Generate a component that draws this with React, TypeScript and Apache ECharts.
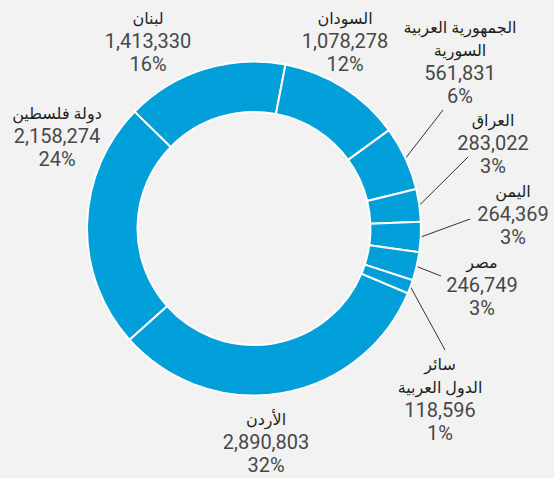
import React, { useEffect, useRef } from "react";
import * as echarts from "echarts";

// Data (sorted, drawn clockwise starting just below 3 o'clock)
const countries = [
  "الأردن",
  "دولة فلسطين",
  "لبنان",
  "السودان",
  "الجمهورية العربية\nالسورية",
  "العراق",
  "اليمن",
  "مصر",
  "سائر\nالدول العربية",
];
const values = [2890803, 2158274, 1413330, 1078278, 561831, 283022, 264369, 246749, 118596];

// Label placement (block centres) and leader-line end points
const labelCenters: [number, number][] = [
  [266, 442],
  [57, 136],
  [148, 41],
  [345, 41],
  [460, 61.5],
  [493, 143],
  [513, 214],
  [482, 285],
  [440, 398.5],
];
const leaderEnds: ([number, number] | null)[] = [
  null,
  null,
  null,
  null,
  [443, 110],
  [468, 157],
  [470, 219],
  [441, 276],
  [445, 350],
];

const BLUE = "#009fda";

export default function App() {
  const ref = useRef<HTMLDivElement>(null);
  useEffect(() => {
    document.body.style.margin = "0";
    document.body.style.background = "#f2f2f2";
    if (!ref.current) return;
    const chart = echarts.init(ref.current, null, { renderer: "svg" });
    const data = countries.map((name, i) => ({
      name,
      value: values[i],
      labelLine: { show: leaderEnds[i] !== null },
    }));
    chart.setOption({
      animation: false,
      backgroundColor: "#f2f2f2",
      series: [
        {
          type: "pie",
          center: [254, 228.5],
          radius: [116.5, 167],
          startAngle: -22.8,
          clockwise: true,
          avoidLabelOverlap: false,
          itemStyle: { color: BLUE, borderColor: "#ffffff", borderWidth: 2 },
          emphasis: { disabled: true },
          data,
          label: {
            show: true,
            position: "outside",
            align: "center",
            formatter: (p: any) =>
              `{n|${p.name}}\n{v|${Number(p.value).toLocaleString("en-US")}}\n{p|${Math.round(p.percent)}%}`,
            rich: {
              n: {
                fontSize: 16,
                lineHeight: 23,
                color: "#1e1e1e",
                fontFamily: "Roboto, 'DejaVu Sans', sans-serif",
                align: "center",
              },
              v: {
                fontSize: 20,
                lineHeight: 23,
                color: "#484848",
                fontFamily: "Roboto, sans-serif",
                align: "center",
              },
              p: {
                fontSize: 20,
                lineHeight: 23,
                color: "#484848",
                fontFamily: "Roboto, sans-serif",
                align: "center",
              },
            },
          },
          labelLine: {
            show: true,
            length: 10,
            length2: 10,
            lineStyle: { color: "#333333", width: 1 },
          },
          labelLayout: (params: any) => {
            const i = params.dataIndex;
            const [x, y] = labelCenters[i];
            const res: any = { x, y, align: "center", verticalAlign: "middle" };
            const end = leaderEnds[i];
            if (end && params.labelLinePoints && params.labelLinePoints[0]) {
              const s = params.labelLinePoints[0];
              res.labelLinePoints = [
                [s[0], s[1]],
                [end[0], end[1]],
                [end[0], end[1]],
              ];
            }
            return res;
          },
        },
      ],
    });
    return () => chart.dispose();
  }, []);
  return <div ref={ref} style={{ width: 554, height: 478, background: "#f2f2f2" }} />;
}
